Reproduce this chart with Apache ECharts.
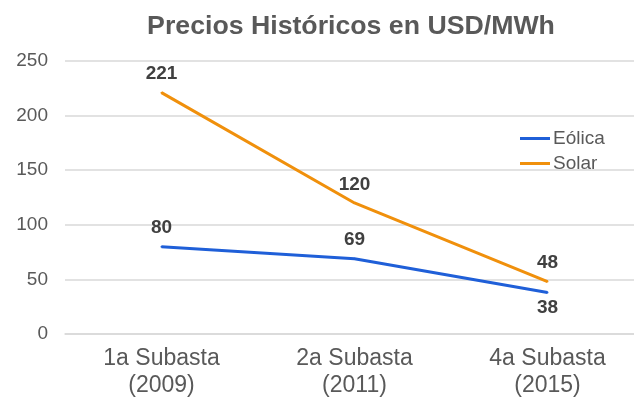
<!DOCTYPE html>
<html>
<head>
<meta charset="utf-8">
<script src="https://cdn.jsdelivr.net/npm/echarts@6/dist/echarts.min.js"></script>
<style>
  html, body { margin: 0; padding: 0; background: #fff; }
  #chart { width: 634px; height: 403px; }
</style>
</head>
<body>
<div id="chart"></div>
<script>
const categories = ['1a Subasta\n(2009)', '2a Subasta\n(2011)', '4a Subasta\n(2015)'];
const eolica = [80, 69, 38];
const solar = [221, 120, 48];
const yTicks = { min: 0, max: 250, interval: 50 };

const chart = echarts.init(document.getElementById('chart'));

const FONT = '"Liberation Sans", Arial, sans-serif';
const BLUE = '#1f5fd8';
const ORANGE = '#f0900c';

function valueLabel(extra) {
  return Object.assign({
    show: true,
    position: 'top',
    distance: 8,
    fontFamily: FONT,
    fontSize: 19,
    fontWeight: 'bold',
    color: '#404040'
  }, extra || {});
}

chart.setOption({
  animation: false,
  title: {
    text: 'Precios Históricos en USD/MWh',
    left: 346,
    textAlign: 'center',
    top: 8,
    textStyle: {
      fontFamily: FONT,
      fontSize: 26.7,
      fontWeight: 'bold',
      color: '#595959'
    }
  },
  legend: {
    orient: 'vertical',
    left: 520,
    top: 129,
    padding: 0,
    itemWidth: 30,
    itemHeight: 3,
    itemGap: 6,
    icon: 'rect',
    textStyle: {
      fontFamily: FONT,
      fontSize: 19,
      color: '#595959',
      padding: [0, 0, 0, -2]
    },
    data: [
      { name: 'Eólica', itemStyle: { color: BLUE } },
      { name: 'Solar', itemStyle: { color: ORANGE } }
    ]
  },
  grid: {
    left: 65,
    width: 579,
    top: 61,
    bottom: 69,
    outerBoundsMode: 'none'
  },
  xAxis: {
    type: 'category',
    data: categories,
    boundaryGap: true,
    axisLine: { show: true, lineStyle: { color: '#d9d9d9', width: 1.5 } },
    axisTick: { show: false },
    axisLabel: {
      fontFamily: FONT,
      fontSize: 23,
      color: '#595959',
      lineHeight: 27,
      margin: 11
    }
  },
  yAxis: {
    type: 'value',
    min: yTicks.min,
    max: yTicks.max,
    interval: yTicks.interval,
    axisLine: { show: false },
    axisTick: { show: false },
    splitLine: { lineStyle: { color: '#d9d9d9', width: 1.5 } },
    axisLabel: {
      fontFamily: FONT,
      fontSize: 19,
      color: '#595959',
      margin: 17
    }
  },
  series: [
    {
      name: 'Eólica',
      type: 'line',
      // last label sits under its point
      data: eolica.map((v, i) => i === eolica.length - 1
        ? { value: v, label: valueLabel({ position: 'bottom', distance: 5 }) }
        : v),
      symbol: 'circle',
      symbolSize: 2,
      showSymbol: true,
      lineStyle: { color: BLUE, width: 3 },
      itemStyle: { color: BLUE },
      label: valueLabel(),
      emphasis: { disabled: true }
    },
    {
      name: 'Solar',
      type: 'line',
      data: solar,
      symbol: 'circle',
      symbolSize: 2,
      showSymbol: true,
      lineStyle: { color: ORANGE, width: 3 },
      itemStyle: { color: ORANGE },
      label: valueLabel(),
      emphasis: { disabled: true }
    }
  ]
});
</script>
</body>
</html>
